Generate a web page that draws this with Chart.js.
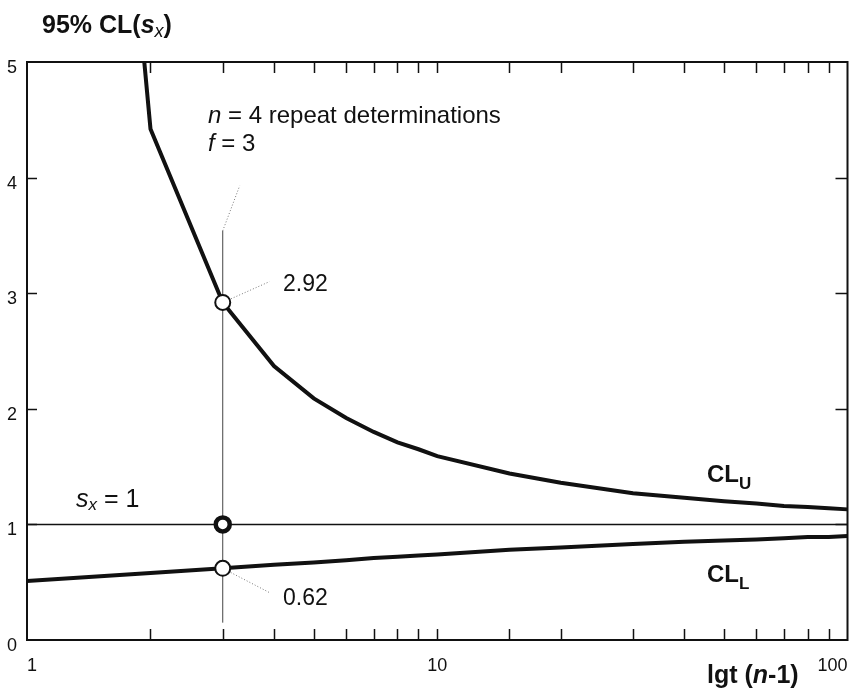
<!DOCTYPE html>
<html>
<head>
<meta charset="utf-8">
<script src="https://cdn.jsdelivr.net/npm/chart.js@4.4.1/dist/chart.umd.min.js"></script>
<style>
  html, body { margin: 0; padding: 0; background: #fff; }
  canvas { display: block; }
</style>
</head>
<body>
<canvas id="clChart" width="859" height="694"></canvas>
<script>
// degrees of freedom f = n - 1
const freedom = [1, 2, 3, 4, 5, 6, 7, 8, 9, 10, 15, 20, 30, 40, 50, 60, 70, 80, 90, 100];
// upper / lower 95% confidence limits of s_x (s_x = 1)
const upperCL = [15.95, 4.42, 2.92, 2.37, 2.09, 1.92, 1.80, 1.71, 1.65, 1.59, 1.44, 1.36, 1.27, 1.23, 1.20, 1.18, 1.16, 1.15, 1.14, 1.13];
const lowerCL = [0.51, 0.58, 0.62, 0.65, 0.67, 0.69, 0.71, 0.72, 0.73, 0.74, 0.78, 0.80, 0.83, 0.85, 0.86, 0.87, 0.88, 0.89, 0.89, 0.90];
// marked example n = 4, f = 3
const exampleF = [3, 3, 3];
const exampleY = [2.92, 1, 0.62];
const yTicks = [0, 1, 2, 3, 4, 5];
const xLabels = [1, 10, 100];

const ink = '#111';
const font = 'Arial, "Liberation Sans", Helvetica, sans-serif';

const pts = (xs, ys) => xs.map((x, i) => ({ x, y: ys[i] }));

// draw a run of text pieces with different styles
function drawRuns(ctx, x, y, runs) {
  runs.forEach(r => {
    ctx.font = r.f;
    ctx.fillText(r.t, x, y + (r.dy || 0));
    x += ctx.measureText(r.t).width;
  });
}

const framePlugin = {
  id: 'frame',
  beforeDatasetsDraw(chart) {
    const { ctx, chartArea: a, scales: { x, y } } = chart;
    ctx.save();
    ctx.strokeStyle = ink;
    ctx.lineWidth = 1.5;
    x.ticks.forEach(t => {
      if (t.value <= x.min || t.value >= x.max) return;
      const px = Math.round(x.getPixelForValue(t.value)) + 0.5;
      ctx.beginPath();
      ctx.moveTo(px, a.bottom); ctx.lineTo(px, a.bottom - 11);
      ctx.moveTo(px, a.top); ctx.lineTo(px, a.top + 11);
      ctx.stroke();
    });
    y.ticks.forEach(t => {
      if (t.value <= y.min || t.value >= y.max) return;
      const py = Math.round(y.getPixelForValue(t.value)) + 0.5;
      ctx.beginPath();
      ctx.moveTo(a.left, py); ctx.lineTo(a.left + 10, py);
      ctx.moveTo(a.right, py); ctx.lineTo(a.right - 12, py);
      ctx.stroke();
    });
    ctx.lineWidth = 2;
    ctx.strokeRect(a.left, a.top, a.right - a.left, a.bottom - a.top);
    ctx.restore();
  },
  afterDraw(chart) {
    const ctx = chart.ctx;
    ctx.save();
    ctx.fillStyle = ink;
    ctx.textBaseline = 'alphabetic';
    ctx.textAlign = 'left';
    // title of y axis
    drawRuns(ctx, 42, 33, [
      { t: '95% CL(', f: 'bold 25px ' + font },
      { t: 's', f: 'italic bold 25px ' + font },
      { t: 'x', f: 'italic 18px ' + font, dy: 4 },
      { t: ')', f: 'bold 25px ' + font }
    ]);
    // x axis title
    drawRuns(ctx, 707, 683, [
      { t: 'lgt (', f: 'bold 25px ' + font },
      { t: 'n', f: 'italic bold 25px ' + font },
      { t: '-1)', f: 'bold 25px ' + font }
    ]);
    drawRuns(ctx, 208, 123, [
      { t: 'n', f: 'italic 24px ' + font },
      { t: ' = 4 repeat determinations', f: '24px ' + font }
    ]);
    drawRuns(ctx, 208, 151, [
      { t: 'f', f: 'italic 24px ' + font },
      { t: ' = 3', f: '24px ' + font }
    ]);
    drawRuns(ctx, 76, 507, [
      { t: 's', f: 'italic 25px ' + font },
      { t: 'x', f: 'italic 17px ' + font, dy: 3 },
      { t: ' = 1', f: '25px ' + font }
    ]);
    drawRuns(ctx, 283, 291, [{ t: '2.92', f: '23px ' + font }]);
    drawRuns(ctx, 283, 605, [{ t: '0.62', f: '23px ' + font }]);
    drawRuns(ctx, 707, 482, [
      { t: 'CL', f: 'bold 24px ' + font },
      { t: 'U', f: 'bold 17px ' + font, dy: 7 }
    ]);
    drawRuns(ctx, 707, 582, [
      { t: 'CL', f: 'bold 24px ' + font },
      { t: 'L', f: 'bold 17px ' + font, dy: 7 }
    ]);
    ctx.restore();
  }
};

const dotted = { borderColor: '#777', borderWidth: 1, borderDash: [1, 2], pointRadius: 0, fill: false };

new Chart(document.getElementById('clChart'), {
  type: 'line',
  data: {
    datasets: [
      {
        label: 'markers',
        data: pts([exampleF[0], exampleF[2]], [exampleY[0], exampleY[2]]),
        showLine: false,
        pointRadius: 7.5,
        pointBorderWidth: 2,
        pointBackgroundColor: '#fff',
        pointBorderColor: ink
      },
      {
        label: 'ring',
        data: pts([exampleF[1]], [exampleY[1]]),
        showLine: false,
        pointRadius: 7,
        pointBorderWidth: 4.5,
        pointBackgroundColor: '#fff',
        pointBorderColor: ink
      },
      { label: 'CLU', data: pts(freedom, upperCL), borderColor: ink, borderWidth: 4, pointRadius: 0, tension: 0 },
      { label: 'CLL', data: pts(freedom, lowerCL), borderColor: ink, borderWidth: 4, pointRadius: 0, tension: 0 },
      { label: 'sx', data: pts([1, 100], [1, 1]), borderColor: ink, borderWidth: 1.5, pointRadius: 0 },
      { label: 'f3', data: pts([3, 3], [0.15, 3.54]), borderColor: '#444', borderWidth: 1, pointRadius: 0 },
      Object.assign({ label: 'lead1', data: pts([3, 3.3], [3.54, 3.93]) }, dotted),
      Object.assign({ label: 'lead2', data: pts([3, 3.9], [2.92, 3.1]) }, dotted),
      Object.assign({ label: 'lead3', data: pts([3, 3.9], [0.62, 0.41]) }, dotted)
    ]
  },
  options: {
    responsive: false,
    devicePixelRatio: 1,
    animation: false,
    layout: { padding: { top: 62, right: 10, left: 0, bottom: 0 } },
    plugins: { legend: { display: false }, tooltip: { enabled: false } },
    scales: {
      x: {
        type: 'logarithmic',
        min: 1,
        max: 100,
        grid: { display: false, drawTicks: false },
        border: { display: false },
        ticks: {
          autoSkip: false,
          maxRotation: 0,
          align: 'inner',
          padding: 15,
          color: ink,
          font: { family: font, size: 18 },
          callback: v => xLabels.includes(v) ? String(v) : ''
        },
        afterFit: s => { s.height = 54; s.paddingLeft = 0; s.paddingRight = 0; }
      },
      y: {
        type: 'linear',
        min: 0,
        max: 5,
        grid: { display: false, drawTicks: false },
        border: { display: false },
        afterBuildTicks: s => { s.ticks = yTicks.map(v => ({ value: v })); },
        ticks: {
          padding: 10,
          labelOffset: 6,
          color: ink,
          font: { family: font, size: 18 }
        },
        afterFit: s => { s.width = 27; s.paddingTop = 0; s.paddingBottom = 0; }
      }
    }
  },
  plugins: [framePlugin]
});
</script>
</body>
</html>
